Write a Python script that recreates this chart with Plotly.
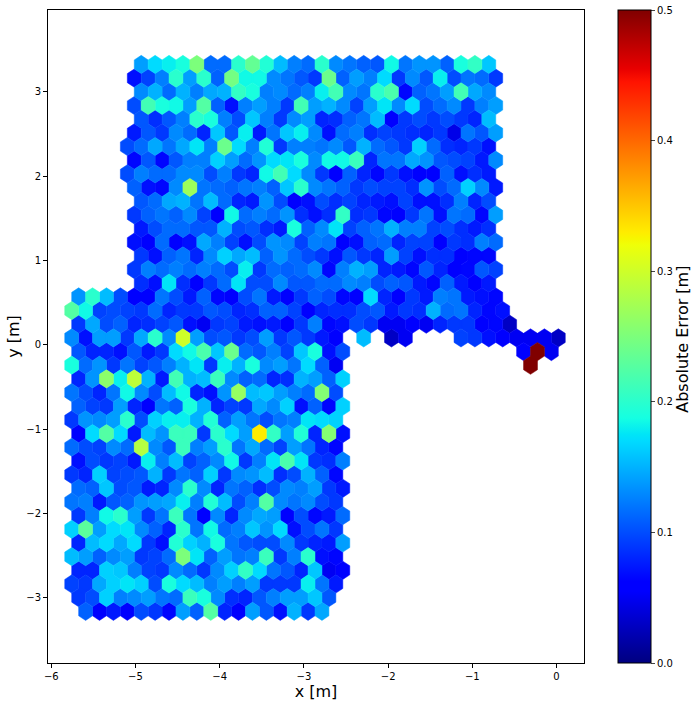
import numpy as np
import plotly.graph_objects as go

N = None
# Absolute error per hexagon. Each row: (first column index, values); None = empty cell
row_00 = (0, [.14,.17,.18,.19,.25,.115,.115,.2,.235,.195,.155,.125,.115,.2,.13,.12,.11,.105,.185,.12,.135,.135,.11,.19,.205,.16])
row_01 = (0, [.07,.095,.125,.2,.14,.2,.11,.245,.185,.185,.13,.12,.105,.09,.24,.11,.14,.125,.17,.09,.13,.105,.18,.1,.12,.115,.09])
row_02 = (0, [.13,.15,.115,.15,.125,.145,.15,.205,.19,.125,.13,.115,.125,.18,.215,.13,.12,.2,.22,.065,.11,.12,.14,.215,.145,.13])
row_03 = (0, [.1,.215,.19,.185,.14,.225,.11,.07,.125,.14,.125,.09,.215,.14,.15,.13,.095,.14,.175,.13,.17,.1,.115,.13,.09,.125,.14])
row_04 = (0, [.105,.085,.105,.125,.2,.19,.125,.1,.16,.125,.09,.13,.14,.08,.085,.11,.12,.155,.055,.09,.1,.09,.1,.09,.08,.155])
row_05 = (0, [.075,.105,.09,.13,.115,.08,.16,.105,.18,.075,.12,.16,.18,.13,.07,.115,.125,.085,.095,.09,.085,.08,.09,.045,.12,.105,.14])
row_06 = (-1, [.1,.115,.145,.12,.145,.175,.125,.24,.17,.125,.195,.09,.125,.125,.12,.13,.105,.15,.115,.105,.09,.165,.115,.085,.08,.09,.07])
row_07 = (0, [.065,.105,.065,.105,.125,.125,.165,.14,.115,.135,.17,.175,.19,.13,.185,.185,.21,.08,.12,.12,.145,.135,.105,.1,.095,.075,.13])
row_08 = (-1, [.1,.125,.115,.115,.13,.13,.1,.125,.09,.08,.185,.215,.17,.13,.09,.06,.11,.08,.065,.09,.07,.055,.06,.11,.07,.085,.075])
row_09 = (0, [.11,.07,.065,.13,.27,.12,.115,.11,.12,.125,.11,.16,.2,.13,.12,.11,.09,.1,.095,.095,.085,.135,.1,.115,.165,.13,.075])
row_10 = (0, [.105,.115,.145,.15,.12,.155,.115,.08,.075,.135,.1,.06,.07,.1,.085,.095,.08,.075,.07,.095,.07,.07,.085,.125,.08,.1])
row_11 = (0, [.09,.11,.12,.11,.13,.095,.06,.185,.115,.125,.115,.135,.085,.07,.085,.205,.085,.09,.065,.055,.09,.12,.07,.12,.115,.065,.14])
row_12 = (0, [.075,.1,.115,.115,.105,.105,.15,.1,.105,.085,.075,.19,.11,.13,.175,.095,.11,.12,.15,.125,.125,.095,.1,.085,.075,.085])
row_13 = (0, [.07,.055,.115,.06,.07,.145,.125,.095,.07,.1,.135,.13,.095,.125,.12,.06,.07,.11,.115,.08,.095,.095,.06,.09,.085,.125,.115])
row_14 = (0, [.09,.07,.11,.12,.08,.13,.165,.145,.155,.11,.135,.115,.1,.09,.07,.105,.09,.08,.14,.095,.07,.085,.085,.06,.065,.065])
row_15 = (0, [.09,.125,.115,.125,.115,.125,.115,.1,.18,.09,.115,.11,.115,.13,.065,.125,.15,.14,.08,.075,.065,.105,.08,.06,.065,.105,.095])
row_16 = (0, [.085,.07,.175,.085,.055,.09,.115,.175,.1,.1,.13,.105,.105,.115,.115,.13,.125,.1,.11,.105,.075,.065,.11,.075,.06,.075])
row_17 = (-4, [.135,.2,.155,.1,.06,.06,.12,.1,.075,.11,.065,.06,.1,.12,.075,.06,.09,.11,.1,.065,.06,.17,.08,.06,.09,.075,.125,.12,.075,.07,.065])
row_18 = (-5, [.225,.185,.095,.1,.095,.09,.115,.08,.09,.09,.105,.1,.08,.085,.11,.11,.095,.06,.08,.085,.085,.1,.105,.075,.09,.085,.15,.115,.12,.08,.065,.07])
row_19 = (-4, [.09,.145,.1,.11,.08,.085,.095,.105,.07,.05,.09,.095,.075,.07,.075,.055,.09,.125,.065,.07,.1,.09,.05,.05,.055,.05,.08,.09,.09,.06,.065,.03])
row_20 = (-5, [.13,.07,.14,.14,.09,.145,.2,.13,.3,.14,.1,.105,.09,.1,.14,.09,.105,.09,.075,.06,N,.155,N,.03,.05,N,N,N,.095,.09,.07,.06,.05,.05,.05,.03])
row_21 = (-4, [.105,.08,.08,.07,.105,.075,.09,.17,.185,.22,.16,.24,.115,.105,.125,.095,.16,.19,.07,.1,N,N,N,N,N,N,N,N,N,N,N,N,.06,.5,.05])
row_22 = (-5, [.19,.115,.135,.09,.12,.095,.105,.125,.15,.175,.09,.18,.15,.19,.13,.14,.12,.17,.11,.05,N,N,N,N,N,N,N,N,N,N,N,N,N,.5])
row_23 = (-4, [.08,.135,.26,.18,.29,.15,.075,.215,.15,.155,.21,.13,.11,.115,.08,.085,.15,.14,.11,.165])
row_24 = (-5, [.12,.1,.08,.12,.185,.13,.1,.155,.185,.08,.07,.135,.265,.155,.16,.14,.125,.115,.255,.1])
row_25 = (-4, [.11,.095,.09,.14,.08,.055,.12,.11,.19,.15,.08,.095,.09,.145,.13,.165,.07,.11,.065,.165])
row_26 = (-5, [.09,.135,.13,.14,.2,.1,.165,.18,.18,.15,.195,.11,.14,.12,.1,.12,.125,.175,.17,.165])
row_27 = (-4, [.06,.17,.225,.17,.075,.155,.135,.21,.21,.09,.2,.17,.14,.33,.205,.14,.195,.08,.255,.07])
row_28 = (-5, [.115,.1,.095,.13,.115,.285,.13,.105,.21,.125,.14,.2,.12,.145,.115,.095,.14,.12,.08,.065])
row_29 = (-4, [.07,.1,.09,.095,.075,.18,.125,.155,.095,.11,.13,.185,.09,.125,.175,.22,.175,.09,.085,.125])
row_30 = (-5, [.09,.08,.165,.095,.1,.105,.15,.09,.12,.11,.165,.09,.13,.135,.155,.085,.1,.15,.11,.065])
row_31 = (-4, [.115,.11,.16,.1,.105,.075,.08,.13,.2,.13,.08,.12,.11,.085,.1,.13,.125,.14,.09,.075])
row_32 = (-5, [.12,.125,.075,.105,.11,.135,.14,.145,.18,.125,.195,.155,.1,.125,.225,.13,.12,.13,.1,.09])
row_33 = (-4, [.09,.125,.185,.2,.14,.09,.12,.21,.12,.06,.13,.08,.13,.145,.14,.06,.1,.065,.075,.115])
row_34 = (-5, [.165,.23,.14,.17,.175,.13,.11,.08,.2,.12,.185,.115,.125,.16,.135,.17,.07,.1,.12,.09])
row_35 = (-4, [.08,.155,.17,.145,.17,.09,.07,.195,.165,.15,.19,.12,.105,.1,.1,.13,.09,.08,.075,.14])
row_36 = (-5, [.155,.14,.11,.13,.14,.09,.095,.115,.25,.175,.11,.14,.12,.125,.21,.09,.125,.2,.07,.065])
row_37 = (-4, [.08,.08,.165,.16,.125,.095,.09,.13,.115,.09,.13,.165,.205,.17,.12,.105,.08,.16,.05,.055])
row_38 = (-5, [.095,.09,.145,.165,.175,.165,.1,.19,.17,.155,.125,.14,.125,.14,.09,.09,.09,.18,.12,.075])
row_39 = (-4, [.09,.1,.165,.125,.13,.14,.12,.115,.21,.19,.13,.085,.08,.105,.125,.14,.14,.16,.105])
row_40 = (-4, [.11,.06,.075,.06,.1,.09,.065,.14,.11,.225,.08,.06,.14,.105,.07,.15,.09,.145])

ROWS = [row_00,row_01,row_02,row_03,row_04,row_05,row_06,row_07,row_08,row_09,
        row_10,row_11,row_12,row_13,row_14,row_15,row_16,row_17,row_18,row_19,
        row_20,row_21,row_22,row_23,row_24,row_25,row_26,row_27,row_28,row_29,
        row_30,row_31,row_32,row_33,row_34,row_35,row_36,row_37,row_38,row_39,row_40]

# Hexbin grid
X0, Y0, DX, DY = -4.932, 3.326, 0.1651, 0.1621
VMIN, VMAX = 0.0, 0.5

# matplotlib "jet"
R_P = ([0,.35,.66,.89,1], [0,0,1,1,.5])
G_P = ([0,.125,.375,.64,.91,1], [0,0,1,1,0,0])
B_P = ([0,.11,.34,.65,1], [.5,1,1,0,0])
STOPS = sorted(set(R_P[0] + G_P[0] + B_P[0]))

def jet(t):
    r, g, b = (float(np.interp(t, *p)) for p in (R_P, G_P, B_P))
    return f"rgb({round(r*255)},{round(g*255)},{round(b*255)})"

JET = [[s, jet(s)] for s in STOPS]

xs, ys, vs = [], [], []
for r, (start, values) in enumerate(ROWS):
    for i, v in enumerate(values):
        if v is None:
            continue
        k = start + i
        xs.append(X0 + DX * k - (DX / 2 if r % 2 else 0))
        ys.append(Y0 - DY * r)
        vs.append(v)

fig = go.Figure()

# Hexagon bodies, one filled trace per distinct value
HEX_X = np.array([0, .5, .5, 0, -.5, -.5, 0]) * DX
HEX_Y = np.array([2/3, 1/3, -1/3, -2/3, -1/3, 1/3, 2/3]) * DY
for value in sorted(set(vs)):
    px, py = [], []
    for x, y, v in zip(xs, ys, vs):
        if v == value:
            px += list(x + HEX_X) + [None]
            py += list(y + HEX_Y) + [None]
    color = jet((value - VMIN) / (VMAX - VMIN))
    fig.add_trace(go.Scatter(x=px, y=py, mode="lines", fill="toself", fillcolor=color,
                             line=dict(color=color, width=0.5), hoverinfo="skip", showlegend=False))

# Value layer that carries the hover text and the colour bar
fig.add_trace(go.Scatter(
    x=xs, y=ys, mode="markers", showlegend=False,
    marker=dict(symbol="hexagon", size=13, color=vs, cmin=VMIN, cmax=VMAX, colorscale=JET, line_width=0,
                colorbar=dict(thickness=33, lenmode="fraction", len=1, x=(617.5-48)/536, xanchor="left",
                              y=0.5, yanchor="middle",
                              tick0=0, dtick=0.1, tickformat=".1f", ticks="outside", ticklen=4, tickwidth=1,
                              tickfont=dict(family="DejaVu Sans", size=10, color="black"),
                              outlinecolor="black", outlinewidth=1, xpad=0, ypad=0)),
    hovertemplate="x=%{x:.2f}<br>y=%{y:.2f}<br>%{marker.color:.3f}<extra></extra>"))

axis = dict(showgrid=False, zeroline=False, showline=True, mirror=True, linecolor="black", linewidth=1,
            ticks="outside", ticklen=4, tickcolor="black", dtick=1,
            tickfont=dict(family="DejaVu Sans", size=10, color="black"),
            title_font=dict(family="DejaVu Sans", size=16, color="black"))
fig.update_layout(
    width=698, height=706, margin=dict(l=48, r=114, t=10, b=43, autoexpand=False),
    paper_bgcolor="white", plot_bgcolor="white", showlegend=False,
    xaxis=dict(axis, range=[-6.039, 0.326], title=dict(text="x [m]", standoff=4)),
    yaxis=dict(axis, range=[-3.771, 3.972], title=dict(text="y [m]", standoff=2)),
    annotations=[dict(text="Absolute Error [m]", textangle=-90, xref="paper", yref="paper",
                      x=(683-48)/536, y=0.495, showarrow=False, xanchor="center", yanchor="middle",
                      font=dict(family="DejaVu Sans", size=16, color="black"))],
)

fig.write_html("out.html", config=dict(displayModeBar=False),
               post_script="document.body.style.margin='0';document.documentElement.style.overflow='hidden';")
